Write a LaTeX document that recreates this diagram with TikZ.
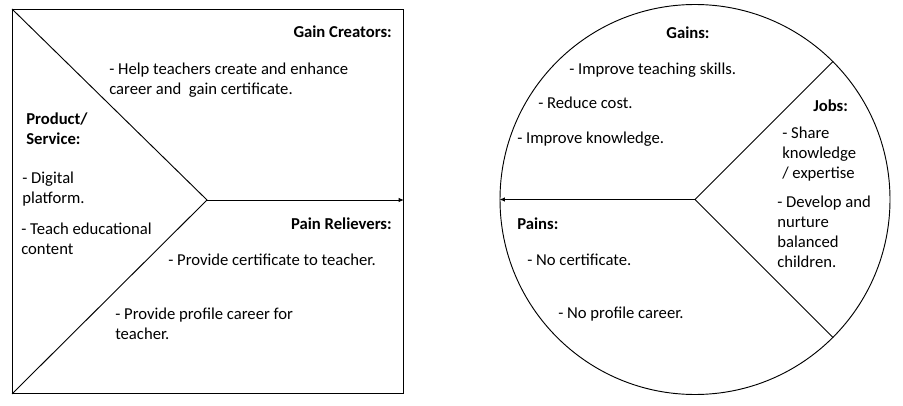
\documentclass[tikz,border=0pt]{standalone}
\usepackage{fontspec}
\setmainfont{Carlito}
\usetikzlibrary{arrows.meta,positioning}

\begin{document}
\begin{tikzpicture}[
  x=0.75pt, y=-0.75pt,
  font=\fontsize{12.5}{15}\selectfont,
  head/.style={font=\fontsize{12.5}{15}\selectfont\bfseries, inner sep=0pt, align=left},
  item/.style={align=left, inner sep=0pt, anchor=north west},
  edge/.style={line width=0.7pt},
  arr/.style={-{Latex[length=1.4mm, width=1.2mm]}, line width=0.7pt}
]
\useasboundingbox (0,0) rectangle (903,406);

% Value map: square with the chevron
\node[draw, edge, anchor=north west, inner sep=0pt, minimum width=293.25pt, minimum height=288pt] (valuemap) at (12,9) {};
\coordinate (vapex) at (207,200);
\draw[edge] (valuemap.north west) -- (vapex) -- (valuemap.south west);
\draw[arr] (vapex) -- (vapex -| valuemap.east);

\node[head, anchor=east] (gaincreators) at (392,32) {Gain Creators:};
\node[item] (gc1) at (109,63) {- Help teachers create and enhance\\career and\ \ gain certificate.};

\node[head, anchor=north west] (prodservice) at (26,113) {Product/\\Service:};
\node[item] (ps1) at (22,172) {- Digital\\platform.};
\node[item] (ps2) at (21,223) {- Teach educational\\content};

\node[head, anchor=east] (painrelievers) at (392,224) {Pain Relievers:};
\node[item] (pr1) at (168,254) {- Provide certificate to teacher.};
\node[item] (pr2) at (115,308) {- Provide profile career for\\teacher.};

% Customer profile: circle in three parts
\node[draw, edge, circle, inner sep=0pt, minimum size=292.5pt] (custprofile) at (695,199.5) {};
\draw[edge] (custprofile.45) -- (custprofile.center) -- (custprofile.-45);
\draw[arr] (custprofile.center) -- (custprofile.west);

\node[head] (gains) at (688,33) {Gains:};
\node[item] (g1) at (569,63) {- Improve teaching skills.};
\node[item] (g2) at (538,97) {- Reduce cost.};
\node[item] (g3) at (517,132) {- Improve knowledge.};

\node[head, anchor=west] (jobs) at (813,106) {Jobs:};
\node[item] (j1) at (782,127) {- Share\\knowledge\\/ expertise};
\node[item] (j2) at (777,196) {- Develop and\\nurture\\balanced\\children.};

\node[head, anchor=west] (pains) at (517,224) {Pains:};
\node[item] (p1) at (527,254) {- No certificate.};
\node[item] (p2) at (558,307) {- No profile career.};

\end{tikzpicture}
\end{document}
